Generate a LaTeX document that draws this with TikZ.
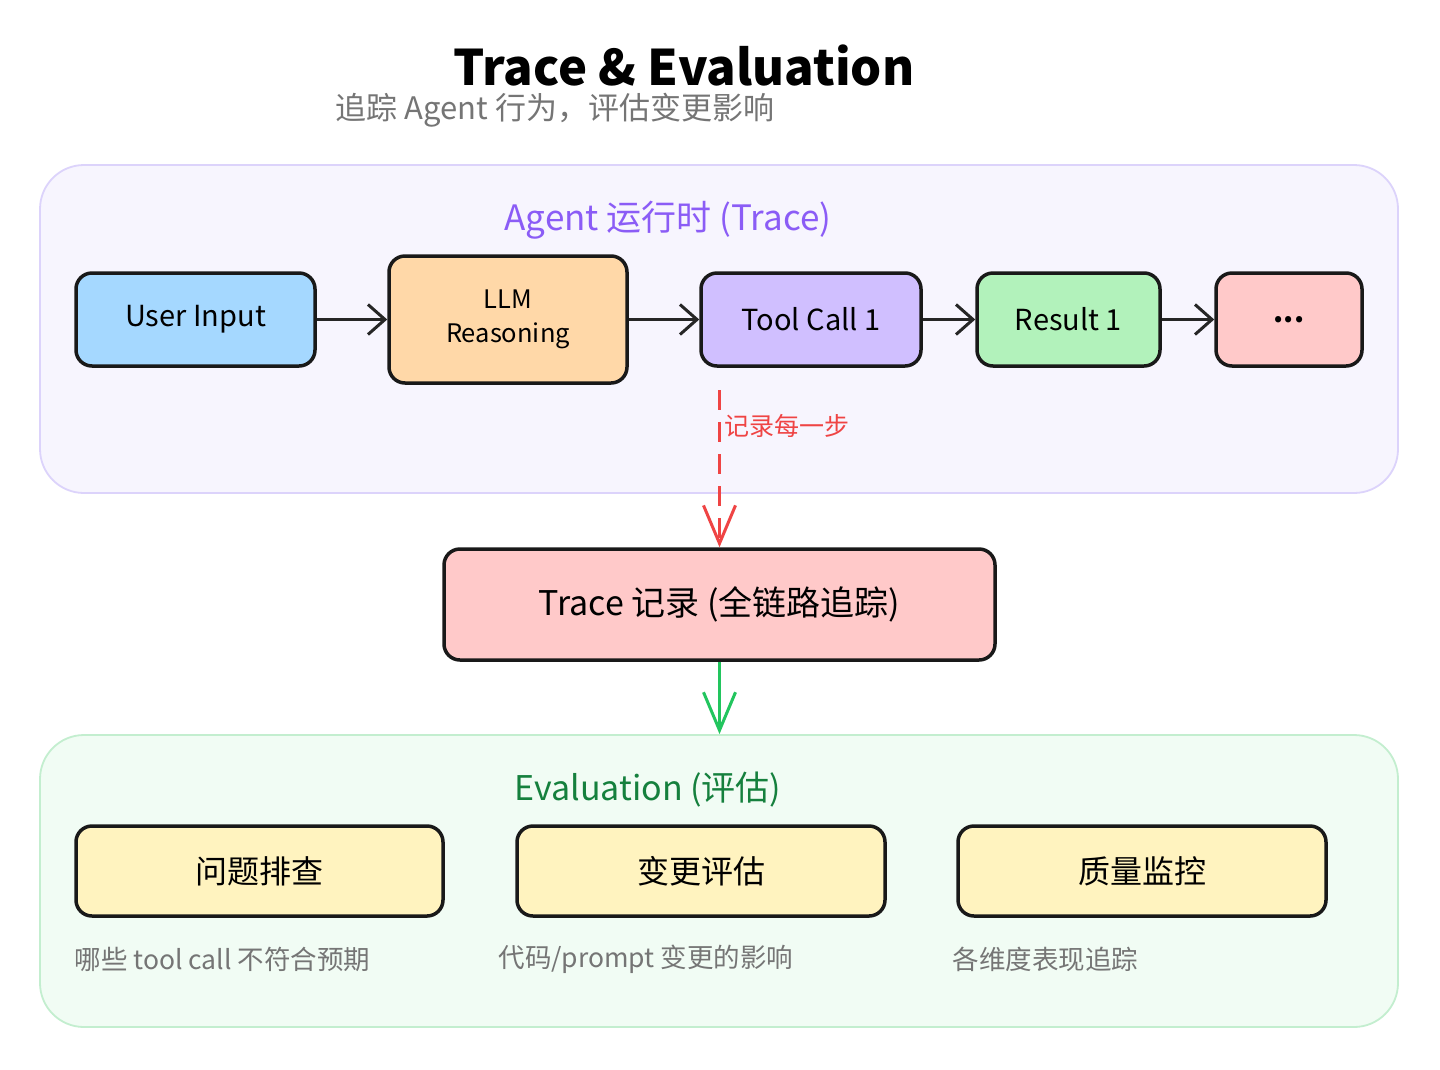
\documentclass[tikz,border=0pt]{standalone}
\usepackage{fontspec}
\setmainfont{Noto Sans CJK SC}
\usetikzlibrary{arrows.meta,positioning}

\definecolor{agentbg}{HTML}{F7F5FE}
\definecolor{agentline}{HTML}{DCD3FB}
\definecolor{evalbg}{HTML}{F1FCF4}
\definecolor{evalline}{HTML}{C3EECF}
\definecolor{agenttext}{HTML}{8B5CF6}
\definecolor{evaltext}{HTML}{15803D}
\definecolor{recred}{HTML}{EF4444}
\definecolor{flowgreen}{HTML}{22C55E}
\definecolor{notegray}{HTML}{757575}
\definecolor{fblue}{HTML}{A5D8FF}
\definecolor{forange}{HTML}{FFD8A8}
\definecolor{fpurple}{HTML}{D0BFFF}
\definecolor{fgreen}{HTML}{B2F2BB}
\definecolor{fpink}{HTML}{FFC9C9}
\definecolor{fyellow}{HTML}{FFF3BF}

\tikzset{
  panel/.style={line width=1.8pt, rounded corners=44pt, inner sep=0pt},
  stepbox/.style={draw=black!90, line width=3.5pt, rounded corners=16pt,
    inner sep=0pt, align=center, font=\fontsize{29}{36}\selectfont},
  barb/.style={-{Straight Barb[length=17pt,width=30pt,line width=3pt]}},
  longbarb/.style={-{Straight Barb[length=38pt,width=32pt,line width=3pt]}},
  flow/.style={line width=3pt, draw=black!85, barb},
  note/.style={anchor=west, text=notegray, font=\fontsize{26.5}{30}\selectfont},
}

\begin{document}
\begin{tikzpicture}[x=1pt,y=-1pt]

\useasboundingbox[fill=white] (0,0) rectangle (1440,1069);

% title
\node[font=\fontsize{49}{56}\selectfont\bfseries] (title) at (684,65) {Trace \& Evaluation};
\node[anchor=west, text=notegray, font=\fontsize{31}{36}\selectfont] (subtitle) at (332,110)
  {追踪 Agent 行为，评估变更影响};

% panels
\node[panel, draw=agentline, fill=agentbg, minimum width=1358pt, minimum height=328pt]
  (agentpanel) at (719,329) {};
\node[panel, draw=evalline, fill=evalbg, minimum width=1358pt, minimum height=292pt]
  (evalpanel) at (719,881) {};

\node[text=agenttext, font=\fontsize{35}{40}\selectfont] (agentlabel) at (668,220)
  {Agent 运行时 (Trace)};
\node[text=evaltext, font=\fontsize{34}{40}\selectfont] (evallabel) at (648,790)
  {Evaluation (评估)};

% agent steps
\node[stepbox, fill=fblue, minimum width=239pt, minimum height=93pt] (user) at (195.5,319.5) {User Input};
\node[stepbox, fill=forange, minimum width=238pt, minimum height=127pt, right=70.5pt of user,
  font=\fontsize{25.5}{34}\selectfont] (llm) {LLM\\Reasoning};
\node[stepbox, fill=fpurple, minimum width=220pt, minimum height=93pt, right=70.5pt of llm] (tool) {Tool Call 1};
\node[stepbox, fill=fgreen, minimum width=183pt, minimum height=93pt, right=52.5pt of tool] (result) {Result 1};
\node[stepbox, fill=fpink, minimum width=146pt, minimum height=93pt, right=52.5pt of result] (more) {\textbf{...}};

\draw[flow] (user) -- (llm);
\draw[flow] (llm) -- (tool);
\draw[flow] (tool) -- (result);
\draw[flow] (result) -- (more);

% trace record
\node[stepbox, fill=fpink, minimum width=551pt, minimum height=111pt,
  font=\fontsize{34}{40}\selectfont] (trace) at (719.5,604.5) {Trace 记录 (全链路追踪)};

\coordinate (rec) at (719.5,390);
\draw[recred, line width=3pt, dash pattern=on 20pt off 12pt, longbarb] (rec) -- (trace.north);
\node[anchor=west, text=recred, font=\fontsize{25}{30}\selectfont] (reclabel) at (721,426) {记录每一步};

\draw[flowgreen, line width=3pt, longbarb] (trace.south) -- (trace.south |- evalpanel.north);

% evaluation items
\node[stepbox, fill=fyellow, minimum width=367pt, minimum height=90pt,
  font=\fontsize{32}{38}\selectfont] (debug) at (259.5,871) {问题排查};
\node[stepbox, fill=fyellow, minimum width=368pt, minimum height=90pt,
  font=\fontsize{32}{38}\selectfont] (change) at (701,871) {变更评估};
\node[stepbox, fill=fyellow, minimum width=368pt, minimum height=90pt,
  font=\fontsize{32}{38}\selectfont] (quality) at (1142,871) {质量监控};

\node[note] (debugnote) at (71,959) {哪些 tool call 不符合预期};
\node[note] (changenote) at (495,959) {代码/prompt 变更的影响};
\node[note] (qualitynote) at (949,959) {各维度表现追踪};

\end{tikzpicture}
\end{document}
